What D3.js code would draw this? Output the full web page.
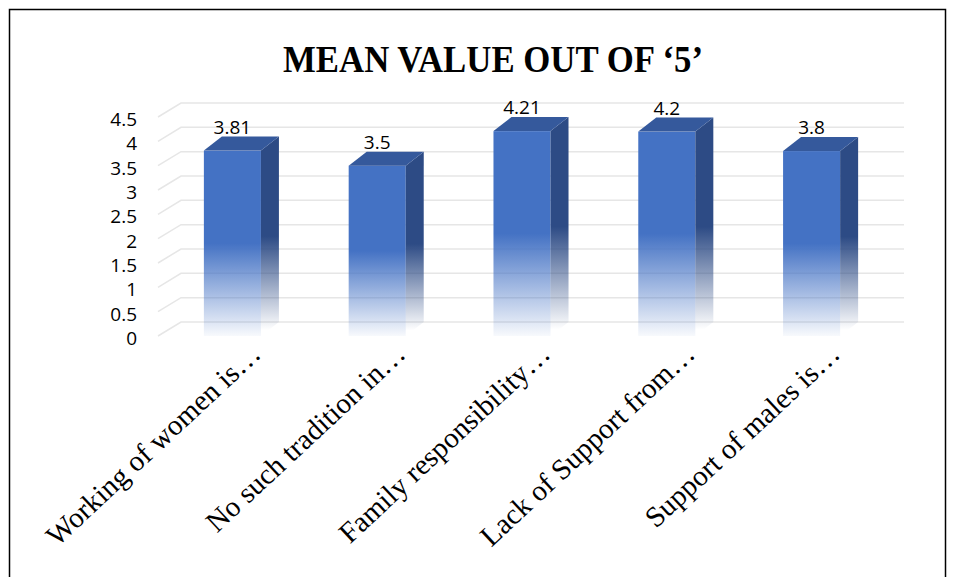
<!DOCTYPE html>
<html>
<head>
<meta charset="utf-8">
<script src="https://cdn.jsdelivr.net/npm/d3@7/dist/d3.min.js"></script>
<style>
  body { margin: 0; background: #ffffff; }
</style>
</head>
<body>
<script>
// mean value chart, 3d-ish columns like the excel original

var categories = ["Working of women is\u2026", "No such tradition in\u2026", "Family responsibility\u2026",
                  "Lack of Support from\u2026", "Support of males is\u2026"];
var meanValues = [3.81, 3.5, 4.21, 4.2, 3.8];
var valueLabels = ["3.81", "3.5", "4.21", "4.2", "3.8"];
var yTicks = [0, 0.5, 1, 1.5, 2, 2.5, 3, 3.5, 4, 4.5];
var yTickLabels = ["0", "0.5", "1", "1.5", "2", "2.5", "3", "3.5", "4", "4.5"];

var width = 958,
    height = 577;

var svg = d3.select("body").append("svg")
    .attr("width", width)
    .attr("height", height)
    .style("background-color", "#ffffff");

var defs = svg.append("defs");

// front face fade
var gFront = defs.append("linearGradient")
    .attr("id", "fadeFront")
    .attr("x1", 0).attr("y1", 0).attr("x2", 0).attr("y2", 1);
gFront.append("stop").attr("offset", "0").attr("stop-color", "#4472C4");
gFront.append("stop").attr("offset", "0.5").attr("stop-color", "#4472C4");
gFront.append("stop").attr("offset", "1").attr("stop-color", "#4472C4").attr("stop-opacity", 0.04);

// side face fade
var gSide = defs.append("linearGradient")
    .attr("id", "fadeSide")
    .attr("x1", 0).attr("y1", 0).attr("x2", 0).attr("y2", 1);
gSide.append("stop").attr("offset", "0").attr("stop-color", "#2D4B85");
gSide.append("stop").attr("offset", "0.5").attr("stop-color", "#2D4B85");
gSide.append("stop").attr("offset", "0.97").attr("stop-color", "#2D4B85").attr("stop-opacity", 0);

// outer frame
svg.append("rect")
    .attr("x", 9.5)
    .attr("y", 9.5)
    .attr("width", 936)
    .attr("height", 620)
    .attr("fill", "none")
    .attr("stroke", "#000")
    .attr("stroke-width", 1.5);

// title
svg.append("text")
    .attr("x", 493)
    .attr("y", 72)
    .attr("text-anchor", "middle")
    .attr("textLength", 420)
    .attr("lengthAdjust", "spacingAndGlyphs")
    .style("font-family", "'Liberation Serif', 'Times New Roman', serif")
    .style("font-weight", "bold")
    .style("font-size", "38px")
    .style("fill", "#000")
    .text("MEAN VALUE OUT OF \u20185\u2019");

// scales - back wall plane
var y = d3.scaleLinear().domain([0, 4.5]).range([322, 103]);
var x = d3.scaleBand().domain(categories).range([160, 884])
    .paddingInner(0.606).paddingOuter(0.303);

var barDx = 18, barDy = 14;    // bar depth
var wallLeft = 158, wallBack = 181, wallRight = 904, wallDy = 14;

// gridlines (side wall diagonal + back wall)
svg.append("g").selectAll("polyline")
    .data(yTicks)
    .enter().append("polyline")
    .attr("points", function(d) {
        return [[wallLeft, y(d) + wallDy], [wallBack, y(d)], [wallRight, y(d)]].join(" ");
    })
    .attr("fill", "none")
    .attr("stroke", "#e6e6e6")
    .attr("stroke-width", 1.5);

// y tick labels
svg.append("g").selectAll("text")
    .data(yTicks)
    .enter().append("text")
    .attr("x", 137)
    .attr("y", function(d) { return y(d) + 23; })
    .attr("text-anchor", "end")
    .style("font-family", "'Open Sans', sans-serif")
    .style("font-size", "19px")
    .style("fill", "#000")
    .text(function(d, i) { return yTickLabels[i]; });

// bars
var bars = svg.append("g").selectAll("g")
    .data(categories)
    .enter().append("g");

bars.append("rect")
    .attr("x", function(d) { return x(d); })
    .attr("y", function(d, i) { return y(meanValues[i]) + barDy; })
    .attr("width", x.bandwidth())
    .attr("height", function(d, i) { return y(0) - y(meanValues[i]); })
    .attr("fill", "url(#fadeFront)");

bars.append("polygon")
    .attr("points", function(d, i) {
        var x1 = x(d) + x.bandwidth(), yf = y(meanValues[i]) + barDy;
        return [[x1, yf], [x1 + barDx, yf - barDy], [x1 + barDx, y(0)], [x1, y(0) + barDy]].join(" ");
    })
    .attr("fill", "url(#fadeSide)");

bars.append("polygon")
    .attr("points", function(d, i) {
        var x0 = x(d), x1 = x0 + x.bandwidth(), yf = y(meanValues[i]) + barDy;
        return [[x0, yf], [x0 + barDx, yf - barDy], [x1 + barDx, yf - barDy], [x1, yf]].join(" ");
    })
    .attr("fill", "#35599C");

// value labels
bars.append("text")
    .attr("x", function(d) { return x(d) + x.bandwidth() / 2; })
    .attr("y", function(d, i) { return y(meanValues[i]) - 3; })
    .attr("text-anchor", "middle")
    .style("font-family", "'Open Sans', sans-serif")
    .style("font-size", "19px")
    .style("fill", "#000")
    .text(function(d, i) { return valueLabels[i]; });

// category labels, rotated
svg.append("g").selectAll("text")
    .data(categories)
    .enter().append("text")
    .attr("transform", function(d) {
        return "translate(" + (x(d) + x.bandwidth() / 2 + 30) + ",356) rotate(-43)";
    })
    .attr("text-anchor", "end")
    .style("font-family", "'Liberation Serif', 'Times New Roman', serif")
    .style("font-size", "29px")
    .style("fill", "#000")
    .text(function(d) { return d; });
</script>
</body>
</html>
